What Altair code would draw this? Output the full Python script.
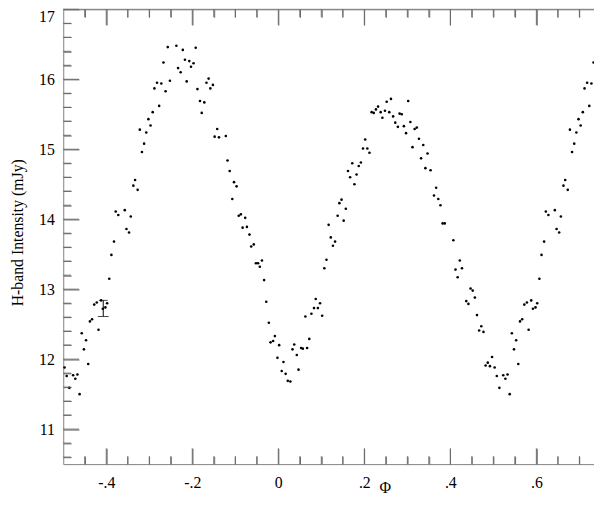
import altair as alt
import pandas as pd

# ---- data (phase-folded H-band light curve, one cycle) ----
phase = [-0.497, -0.492, -0.486, -0.477, -0.472, -0.467, -0.462, -0.457, -0.452, -0.447,
         -0.442, -0.438, -0.433, -0.428, -0.422, -0.418, -0.412, -0.408, -0.402, -0.398,
         -0.393, -0.388, -0.382, -0.378, -0.372, -0.357, -0.353, -0.347, -0.343, -0.337,
         -0.333, -0.327, -0.322, -0.317, -0.312, -0.307, -0.302, -0.297, -0.292, -0.288,
         -0.282, -0.277, -0.272, -0.267, -0.262, -0.257, -0.252, -0.237, -0.233, -0.227,
         -0.222, -0.217, -0.213, -0.207, -0.203, -0.197, -0.192, -0.188, -0.182, -0.178,
         -0.172, -0.167, -0.162, -0.158, -0.152, -0.148, -0.142, -0.138, -0.122, -0.118,
         -0.113, -0.107, -0.103, -0.097, -0.092, -0.087, -0.083, -0.077, -0.073, -0.067,
         -0.063, -0.057, -0.052, -0.047, -0.043, -0.038, -0.033, -0.028, -0.022, -0.018,
         -0.012, -0.008, -0.002, 0.002, 0.008, 0.012, 0.017, 0.022, 0.028, 0.033,
         0.037, 0.043, 0.047, 0.053, 0.057, 0.063, 0.067, 0.072, 0.077, 0.083,
         0.087, 0.092, 0.097, 0.102, 0.107, 0.112, 0.117, 0.122, 0.127, 0.132,
         0.138, 0.142, 0.147, 0.152, 0.157, 0.162, 0.167, 0.172, 0.177, 0.182,
         0.187, 0.192, 0.197, 0.202, 0.207, 0.212, 0.217, 0.222, 0.227, 0.232,
         0.238, 0.242, 0.248, 0.252, 0.258, 0.262, 0.267, 0.272, 0.278, 0.282,
         0.287, 0.292, 0.297, 0.302, 0.307, 0.312, 0.317, 0.322, 0.327, 0.332,
         0.337, 0.342, 0.347, 0.354, 0.362, 0.367, 0.372, 0.377, 0.382, 0.387,
         0.407, 0.412, 0.417, 0.422, 0.427, 0.437, 0.442, 0.447, 0.452, 0.457,
         0.462, 0.467, 0.472, 0.477, 0.482, 0.487, 0.492, 0.497]

flux = [11.88, 11.76, 11.59, 11.77, 11.72, 11.78, 11.50, 12.37, 12.14, 12.27,
        11.93, 12.54, 12.57, 12.78, 12.81, 12.42, 12.84, 12.72, 12.74, 12.80,
        13.15, 13.49, 13.68, 14.11, 14.06, 14.13, 13.86, 13.81, 14.04, 14.48,
        14.56, 14.42, 15.28, 14.96, 15.08, 15.24, 15.43, 15.34, 15.53, 15.87,
        15.95, 15.62, 15.94, 16.24, 15.83, 16.46, 15.98, 16.48, 16.16, 16.10,
        16.42, 16.28, 15.97, 16.26, 16.18, 16.23, 16.45, 15.86, 15.69, 15.52,
        15.67, 15.95, 16.01, 15.87, 15.92, 15.18, 15.29, 15.17, 15.19, 14.84,
        14.69, 14.29, 14.53, 14.47, 14.05, 14.07, 13.88, 14.02, 13.89, 13.78,
        13.61, 13.64, 13.37, 13.37, 13.32, 13.41, 13.13, 12.82, 12.52, 12.24,
        12.26, 12.33, 12.02, 12.20, 11.83, 11.96, 11.79, 11.69, 11.68, 12.14,
        12.21, 12.06, 11.85, 12.16, 12.15, 12.61, 12.16, 12.29, 12.65, 12.73,
        12.86, 12.73, 12.80, 12.62, 13.30, 13.42, 13.92, 13.74, 13.62, 13.68,
        14.05, 14.23, 14.28, 13.98, 14.15, 14.69, 14.60, 14.80, 14.50, 14.64,
        14.76, 14.81, 15.01, 15.14, 15.01, 14.95, 15.53, 15.52, 15.57, 15.61,
        15.53, 15.45, 15.55, 15.68, 15.53, 15.72, 15.47, 15.38, 15.32, 15.51,
        15.50, 15.33, 15.23, 15.69, 15.39, 15.03, 15.29, 15.31, 15.15, 14.87,
        15.06, 14.73, 14.94, 14.70, 14.34, 14.45, 14.29, 14.20, 13.94, 13.94,
        13.70, 13.28, 13.17, 13.41, 13.30, 12.83, 12.79, 13.01, 12.98, 12.88,
        12.63, 12.41, 12.47, 12.39, 11.91, 11.95, 11.90, 12.03]

# representative error bar
err_phase = [-0.407]
err_low = [12.61]
err_high = [12.84]

# axis tick values
x_major = [-0.4, -0.2, 0.0, 0.2, 0.4, 0.6]
x_minor = [-0.45, -0.35, -0.3, -0.25, -0.15, -0.1, -0.05, 0.05, 0.1, 0.15,
           0.25, 0.3, 0.35, 0.45, 0.5, 0.55, 0.65, 0.7]
y_major = [11, 12, 13, 14, 15, 16, 17]
y_minor = [10.6, 10.8, 11.2, 11.4, 11.6, 11.8, 12.2, 12.4, 12.6, 12.8,
           13.2, 13.4, 13.6, 13.8, 14.2, 14.4, 14.6, 14.8, 15.2, 15.4,
           15.6, 15.8, 16.2, 16.4, 16.6, 16.8]

X_MIN, X_MAX = -0.5, 0.734
Y_MIN, Y_MAX = 10.5, 17
W, H = 538, 461
FONT = "Liberation Serif"
DOMAIN = "gray"
TICK = "dimgray"

# phase-folded plot shows 1.25 cycles: repeat the cycle shifted by one
base = pd.DataFrame({"phase": phase, "flux": flux})
wrap = base[base["phase"] + 1 <= X_MAX].copy()
wrap["phase"] = wrap["phase"] + 1
pts = pd.concat([base, wrap], ignore_index=True)

xs = alt.Scale(domain=[X_MIN, X_MAX], nice=False, zero=False)
ys = alt.Scale(domain=[Y_MIN, Y_MAX], nice=False, zero=False)

label_expr = ("datum.value == 0 ? '0' : (datum.value < 0 ? '-' : '') + "
              "replace(format(abs(datum.value), '.1f'), '0.', '.')")

x_axis = alt.Axis(orient="bottom", values=x_major, labelExpr=label_expr, ticks=False,
                  tickSize=0, grid=False, labelPadding=11, labelFlush=False,
                  labelFont=FONT, labelFontSize=16, labelColor="black",
                  domainColor=DOMAIN,
                  title="Φ", titleX=326, titleY=29, titleFont=FONT, titleFontSize=16,
                  titleFontWeight="normal", titleColor="black",
                  titleBaseline="alphabetic", titleAlign="center")
y_axis = alt.Axis(orient="left", values=y_major, format="d", ticks=False, tickSize=0,
                  grid=False, labelPadding=9, labelFlush=True, labelFlushOffset=1,
                  labelFont=FONT, labelFontSize=16, labelColor="black",
                  domainColor=DOMAIN,
                  title="H-band Intensity (mJy)", titleX=-41, titleY=226,
                  titleAngle=270, titleAlign="center", titleBaseline="alphabetic",
                  titleFont=FONT, titleFontSize=16, titleFontWeight="normal",
                  titleColor="black")


def tick_axis(orient, offset, vals, size, domain=False):
    """Axis moved to the opposite edge so that its ticks point inward."""
    return alt.Axis(orient=orient, offset=offset, values=vals, labels=False,
                    domain=domain, domainColor=DOMAIN, grid=False, ticks=True,
                    tickSize=size, tickColor=TICK, tickWidth=1, title=None)


err_df = pd.DataFrame({"phase": err_phase, "flux": err_low, "hi": err_high})


def guide_layer(xax, yax):
    return alt.Chart(err_df).mark_point(opacity=0).encode(
        x=alt.X("phase:Q", scale=xs, axis=xax),
        y=alt.Y("flux:Q", scale=ys, axis=yax))


guides = [
    guide_layer(tick_axis("top", -H, x_major, 16), tick_axis("right", -W, y_major, 16)),
    guide_layer(tick_axis("top", -H, x_minor, 8), tick_axis("right", -W, y_minor, 8)),
    guide_layer(tick_axis("bottom", -H, x_major, 16, domain=True), None),
    guide_layer(tick_axis("bottom", -H, x_minor, 8), None),
]


def xticks(vals, y0, y1):
    return alt.Chart(pd.DataFrame({"t": vals})).mark_rule(color=TICK, strokeWidth=1).encode(
        x=alt.X("t:Q", scale=xs, axis=None), y=alt.value(y0), y2=alt.value(y1))


def yticks(vals, length):
    return alt.Chart(pd.DataFrame({"t": vals})).mark_rule(color=TICK, strokeWidth=1).encode(
        y=alt.Y("t:Q", scale=ys, axis=None), x=alt.value(0), x2=alt.value(length))


top_frame = alt.Chart(pd.DataFrame({"a": [0]})).mark_rule(color=DOMAIN, strokeWidth=1).encode(
    x=alt.value(0), x2=alt.value(W), y=alt.value(0))

rules = [top_frame,
         xticks(x_major, H, H - 16), xticks(x_minor, H, H - 8),
         xticks(x_major, 0, 16), xticks(x_minor, 0, 8),
         yticks(y_major, 16), yticks(y_minor, 8)]

err_rule = alt.Chart(err_df).mark_rule(color="black", strokeWidth=1).encode(
    x=alt.X("phase:Q", scale=xs, axis=None),
    y=alt.Y("flux:Q", scale=ys, axis=None), y2="hi:Q")
err_cap_lo = alt.Chart(err_df).mark_tick(color="black", orient="horizontal", size=11,
                                         thickness=1).encode(
    x=alt.X("phase:Q", scale=xs, axis=None), y=alt.Y("flux:Q", scale=ys, axis=None))
err_cap_hi = alt.Chart(err_df).mark_tick(color="black", orient="horizontal", size=9,
                                         thickness=1).encode(
    x=alt.X("phase:Q", scale=xs, axis=None), y=alt.Y("hi:Q", scale=ys, axis=None))

points = alt.Chart(pts).mark_circle(size=7, color="black", opacity=1).encode(
    x=alt.X("phase:Q", scale=xs, axis=x_axis),
    y=alt.Y("flux:Q", scale=ys, axis=y_axis),
)

chart = alt.layer(
    points,
    *guides,
    err_rule, err_cap_lo, err_cap_hi,
    *rules,
).resolve_axis(x="independent", y="independent").properties(
    width=W, height=H,
    autosize=alt.AutoSizeParams(type="none"),
    padding={"left": 56, "top": -2, "right": 0, "bottom": 31},
).configure_view(stroke=None)

chart.save("out.html", embed_options={"renderer": "svg", "actions": False})
